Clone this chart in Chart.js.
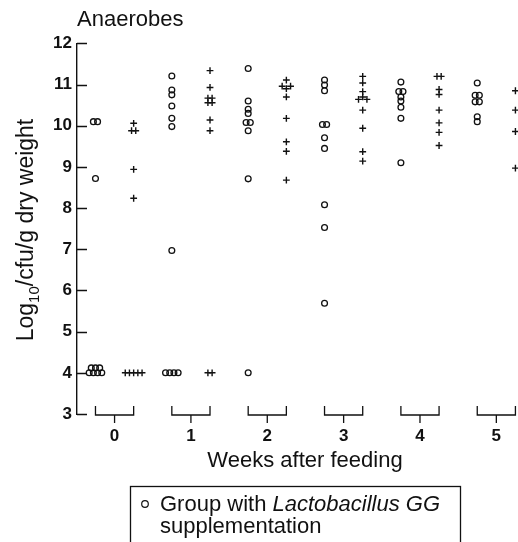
<!DOCTYPE html>
<html><head><meta charset="utf-8">
<script src="https://cdn.jsdelivr.net/npm/chart.js@4"></script>
<style>html,body{margin:0;padding:0;background:#fff}#wrap{width:518px;height:542px}</style>
</head><body><div id="wrap"><canvas id="c" width="518" height="542"></canvas></div>
<script>
const weeks = [0, 1, 2, 3, 4, 5];
const weekLabels = ['0', '1', '2', '3', '4', '5'];
const yTicks = [3, 4, 5, 6, 7, 8, 9, 10, 11, 12];

// Group with Lactobacillus GG (circles), log10 cfu/g, read top to bottom per week
const lggW0 = [10.1, 10.1, 8.72, 4.12, 4.12, 4.12, 4.0, 4.0, 4.0, 4.0];
const lggW1 = [11.21, 10.87, 10.75, 10.48, 10.18, 9.98, 6.97, 4.0, 4.0, 4.0, 4.0];
const lggW2 = [11.39, 10.6, 10.4, 10.3, 10.08, 10.08, 9.88, 8.71, 4.0];
const lggW3 = [11.11, 10.99, 10.85, 10.03, 10.03, 9.71, 9.45, 8.08, 7.53, 5.69];
const lggW4 = [11.06, 10.83, 10.83, 10.7, 10.6, 10.45, 10.18, 9.1];
const lggW5 = [11.04, 10.74, 10.74, 10.58, 10.58, 10.22, 10.1];

// Group without supplementation (crosses)
const ctrlW0 = [10.06, 9.88, 9.88, 8.94, 8.24, 4.0, 4.0, 4.0, 4.0, 4.0];
const ctrlW1 = [11.34, 10.93, 10.67, 10.67, 10.56, 10.56, 10.14, 9.88, 4.0, 4.0];
const ctrlW2 = [11.11, 10.96, 10.9, 10.96, 10.7, 10.18, 9.61, 9.38, 8.68];
const ctrlW3 = [11.2, 11.04, 10.83, 10.64, 10.7, 10.64, 10.38, 9.94, 9.37, 9.14];
const ctrlW4 = [11.2, 11.2, 10.88, 10.76, 10.38, 10.07, 9.84, 9.52];
const ctrlW5 = [10.85, 10.38, 9.86, 8.97];

const lggByWeek = [lggW0, lggW1, lggW2, lggW3, lggW4, lggW5];
const ctrlByWeek = [ctrlW0, ctrlW1, ctrlW2, ctrlW3, ctrlW4, ctrlW5];

const GROUP_OFFSET = 0.25;   // circles left of week, crosses right
const STEP = 0.055;          // side-by-side spread for coinciding values

function spread(center, vals) {
  const pts = [];
  let i = 0;
  while (i < vals.length) {
    let j = i + 1;
    while (j < vals.length && Math.abs(vals[j] - vals[j - 1]) <= 0.07) j++;
    const n = j - i;
    for (let k = 0; k < n; k++) pts.push({ x: center + (k - (n - 1) / 2) * STEP, y: vals[i + k] });
    i = j;
  }
  return pts;
}

const lggPts = [], ctrlPts = [];
weeks.forEach((w, i) => {
  lggPts.push(...spread(w - GROUP_OFFSET, lggByWeek[i]));
  ctrlPts.push(...spread(w + GROUP_OFFSET, ctrlByWeek[i]));
});

const F = "'Liberation Sans', Arial, Helvetica, sans-serif";
const INK = '#111';

const decor = {
  id: 'decor',
  afterDraw(chart) {
    const ctx = chart.ctx, xs = chart.scales.x, ys = chart.scales.y;
    ctx.save();
    ctx.strokeStyle = INK; ctx.lineWidth = 1.3;
    // inward y ticks
    ctx.beginPath();
    yTicks.forEach(v => {
      const y = Math.round(ys.getPixelForValue(v)) + 0.5;
      ctx.moveTo(ys.right, y); ctx.lineTo(ys.right + 10, y);
    });
    ctx.stroke();
    // week brackets
    const yb = ys.getPixelForValue(3) + 1;
    ctx.beginPath();
    weeks.forEach(w => {
      const xl = xs.getPixelForValue(w - GROUP_OFFSET);
      const xr = xs.getPixelForValue(w + GROUP_OFFSET);
      const xc = xs.getPixelForValue(w);
      ctx.moveTo(xl, yb - 9); ctx.lineTo(xl, yb); ctx.lineTo(xr, yb); ctx.lineTo(xr, yb - 9);
      ctx.moveTo(xc, yb); ctx.lineTo(xc, yb + 8);
    });
    ctx.stroke();

    ctx.fillStyle = INK;
    // x-axis title
    ctx.textAlign = 'center';
    ctx.textBaseline = 'alphabetic';
    ctx.font = '22px ' + F;
    ctx.fillText('Weeks after feeding', 305, 467);

    // y-axis title with subscript
    ctx.save();
    ctx.translate(33, 230);
    ctx.rotate(-Math.PI / 2);
    ctx.textBaseline = 'alphabetic';
    ctx.textAlign = 'left';
    const big = '23px ' + F, small = '15px ' + F;
    const parts = [['Log', big, 0], ['10', small, 6], ['/cfu/g dry weight', big, 0]];
    let total = 0;
    parts.forEach(p => { ctx.font = p[1]; total += ctx.measureText(p[0]).width; });
    let x = -total / 2;
    parts.forEach(p => { ctx.font = p[1]; ctx.fillText(p[0], x, p[2]); x += ctx.measureText(p[0]).width; });
    ctx.restore();

    // legend box
    ctx.lineWidth = 1.3;
    ctx.strokeRect(130.5, 486.5, 330, 80);
    ctx.beginPath();
    ctx.lineWidth = 1.2;
    ctx.arc(145, 504, 3.3, 0, Math.PI * 2);
    ctx.stroke();
    ctx.textBaseline = 'alphabetic';
    ctx.textAlign = 'left';
    ctx.font = '22px ' + F;
    const t1 = 'Group with ';
    ctx.fillText(t1, 160, 511);
    const w1 = ctx.measureText(t1).width;
    ctx.font = 'italic 22px ' + F;
    ctx.fillText('Lactobacillus GG', 160 + w1, 511);
    ctx.font = '22px ' + F;
    ctx.fillText('supplementation', 160, 533);
    ctx.restore();
  }
};

new Chart(document.getElementById('c'), {
  type: 'scatter',
  data: {
    datasets: [
      { label: 'Group with Lactobacillus GG supplementation', data: lggPts, pointStyle: 'circle',
        radius: 2.9, borderColor: INK, backgroundColor: 'rgba(0,0,0,0)', borderWidth: 1.3, clip: false },
      { label: 'Group without supplementation', data: ctrlPts, pointStyle: 'cross',
        radius: 3.4, borderColor: INK, backgroundColor: INK, borderWidth: 1.4, clip: false }
    ]
  },
  options: {
    responsive: false,
    animation: false,
    layout: { padding: { left: 0, right: 0, top: 0, bottom: 58 } },
    plugins: {
      legend: { display: false },
      tooltip: { enabled: false },
      title: { display: true, text: 'Anaerobes', align: 'start', fullSize: false,
        font: { family: F, size: 22, weight: 'normal' }, color: INK, padding: { top: 7, bottom: 10 } }
    },
    scales: {
      x: {
        type: 'linear', min: -0.492, max: 5.213,
        afterBuildTicks: s => { s.ticks = weeks.map(v => ({ value: v })); },
        afterFit: s => { s.height = 70; },
        grid: { display: false, drawTicks: false },
        border: { display: false },
        ticks: { font: { family: F, size: 17, weight: 'bold' }, color: INK, padding: 12,
          callback: v => weekLabels[weeks.indexOf(v)] },
        title: { display: false }
      },
      y: {
        min: 3, max: 12,
        afterBuildTicks: s => { s.ticks = yTicks.map(v => ({ value: v })); },
        afterFit: s => { s.width = 77; },
        grid: { display: false, drawTicks: false },
        border: { display: true, color: INK, width: 1.4 },
        ticks: { font: { family: F, size: 17, weight: 'bold' }, color: INK, padding: 5 }
      }
    }
  },
  plugins: [decor]
});
</script>
</body></html>
